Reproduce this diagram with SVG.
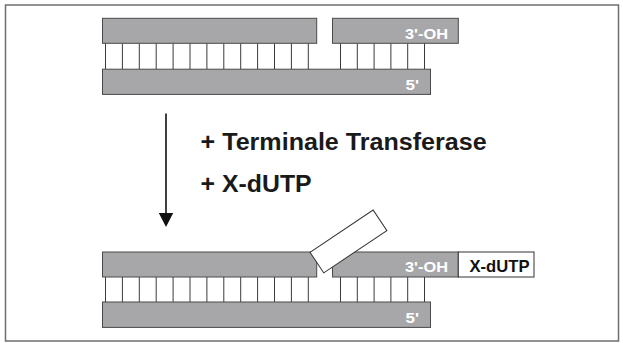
<svg xmlns="http://www.w3.org/2000/svg" width="623" height="343" viewBox="0 0 623 343">
<defs>
<style>
.strand{fill:#a7a7a9;stroke:#4a4a4a;stroke-width:1}
.rung{stroke:#3a3a3a;stroke-width:1}
.lbl{font-family:"Liberation Sans",Arial,sans-serif;font-weight:bold;font-size:15px;fill:#ffffff}
.big{font-family:"Liberation Sans",Arial,sans-serif;font-weight:bold;font-size:23.5px;fill:#1a1a1a}
.box{fill:#ffffff;stroke:#333333;stroke-width:1}
</style>
<g id="rungs">
<path class="rung" d="M105.5,0V26M122.4,0V26M139.3,0V26M156.2,0V26M173.1,0V26M190,0V26M206.9,0V26M223.8,0V26M240.7,0V26M257.6,0V26M274.5,0V26M291.4,0V26M308.3,0V26M340.5,0V26M357.3,0V26M374.1,0V26M390.9,0V26M407.7,0V26M424.5,0V26"/>
</g>
</defs>
<rect x="5.5" y="5" width="613" height="336" fill="#ffffff" stroke="#6e6e6e" stroke-width="1.5"/>

<g id="top-duplex">
<use href="#rungs" y="43.3"/>
<rect class="strand" x="102.5" y="18.3" width="214.2" height="25"/>
<rect class="strand" x="332.5" y="18.3" width="125.8" height="25"/>
<rect class="strand" x="102.5" y="69.2" width="328" height="25.2"/>
<text class="lbl" x="405" y="38.5" textLength="43" lengthAdjust="spacingAndGlyphs">3'-OH</text>
<text class="lbl" x="405.5" y="89.5" textLength="13.5" lengthAdjust="spacingAndGlyphs">5'</text>
</g>

<g id="connectors">
<line x1="166" y1="113.5" x2="166" y2="214" stroke="#111111" stroke-width="1.6"/>
<polygon points="158.8,213 173.2,213 166,227" fill="#111111"/>
</g>

<g id="reagents">
<text class="big" x="200.6" y="150" textLength="286" lengthAdjust="spacingAndGlyphs">+ Terminale Transferase</text>
<text class="big" x="200.6" y="191.5" textLength="111" lengthAdjust="spacingAndGlyphs">+ X-dUTP</text>
</g>

<g id="bottom-duplex">
<use href="#rungs" y="277"/>
<rect class="strand" x="102.5" y="252" width="214.2" height="25"/>
<rect class="strand" x="332.5" y="252" width="125.8" height="25"/>
<rect class="strand" x="102.5" y="302" width="328" height="25.4"/>
<text class="lbl" x="405" y="272.3" textLength="43" lengthAdjust="spacingAndGlyphs">3'-OH</text>
<text class="lbl" x="405.5" y="322.5" textLength="13.5" lengthAdjust="spacingAndGlyphs">5'</text>
</g>

<g id="x-dutp">
<rect class="box" x="458.3" y="252" width="75.7" height="25"/>
<text x="469.5" y="272.3" font-family="Liberation Sans,Arial,sans-serif" font-weight="bold" font-size="16.5" fill="#111111" textLength="60" lengthAdjust="spacingAndGlyphs">X-dUTP</text>
</g>

<g id="displaced-nucleotide">
<rect class="box" x="0" y="0" width="76" height="24.7" transform="translate(310,252.3) rotate(-33.8)"/>
</g>
</svg>
